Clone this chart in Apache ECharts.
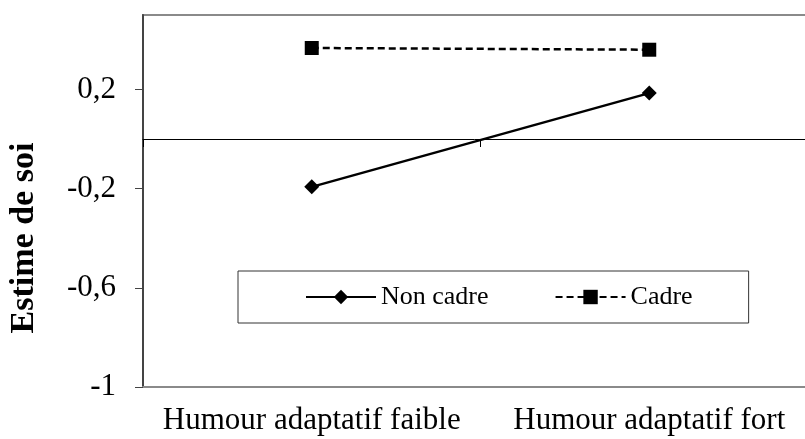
<!DOCTYPE html>
<html>
<head>
<meta charset="utf-8">
<script src="https://cdn.jsdelivr.net/npm/echarts@6/dist/echarts.min.js"></script>
<style>
  html, body { margin: 0; padding: 0; background: #fff; }
  #chart { width: 805px; height: 439px; }
</style>
</head>
<body>
<div id="chart"></div>
<script>
// donnees
const categories = ['Humour adaptatif faible', 'Humour adaptatif fort']
const nonCadre = [-0.193, 0.185]
const cadre = [0.367, 0.36]
const yTicks = [-1, -0.6, -0.2, 0.2]

const serif = "'Liberation Serif', 'Times New Roman', serif"
const fmt = (v) => String(Math.round(v * 10) / 10).replace('.', ',')

const myChart = echarts.init(document.getElementById('chart'))
const option = {
  animation: false,
  grid: {
    left: 143,
    width: 675,
    top: 15,
    bottom: 52,
    outerBoundsMode: 'none',
    show: true,
    borderColor: '#8a8a8a',
    borderWidth: 2
  },
  graphic: [{
    type: 'text',
    x: 24,
    y: 238,
    rotation: Math.PI / 2,
    style: {
      text: 'Estime de soi',
      font: 'bold 34px ' + serif,
      fill: '#000',
      align: 'center',
      verticalAlign: 'middle'
    }
  }],
  legend: {
    left: 238,
    top: 271,
    padding: [13, 56, 13, 67],
    borderColor: '#333',
    borderWidth: 1,
    itemWidth: 70,
    itemHeight: 18,
    itemGap: 66,
    textStyle: { fontFamily: serif, fontSize: 26, color: '#000' },
    data: ['Non cadre', 'Cadre']
  },
  xAxis: [{
    type: 'category',
    data: categories,
    position: 'bottom',
    axisLine: { onZero: false, lineStyle: { color: '#8a8a8a', width: 2 } },
    axisTick: { show: false },
    axisLabel: { interval: 0, fontFamily: serif, fontSize: 31, color: '#000', margin: 18 }
  }, {
    type: 'category',
    data: categories,
    position: 'top',
    axisLine: { onZero: true, lineStyle: { color: '#000', width: 1 } },
    axisTick: { show: true, interval: 0, inside: true, length: 8, lineStyle: { color: '#000' } },
    axisLabel: { show: false, interval: 0 }
  }],
  yAxis: {
    type: 'value',
    min: -1,
    max: 0.5,
    interval: 0.4,
    splitLine: { show: false },
    axisLine: { show: true, lineStyle: { color: '#444', width: 2 } },
    axisTick: { show: true, length: 8, customValues: yTicks, lineStyle: { color: '#444' } },
    axisLabel: {
      customValues: yTicks,
      formatter: fmt,
      fontFamily: serif,
      fontSize: 31,
      color: '#000',
      margin: 27
    }
  },
  series: [{
    name: 'Non cadre',
    type: 'line',
    data: nonCadre,
    symbol: 'diamond',
    symbolSize: 15,
    itemStyle: { color: '#000' },
    lineStyle: { color: '#000', width: 2.5, type: 'solid' }
  }, {
    name: 'Cadre',
    type: 'line',
    data: cadre,
    symbol: 'rect',
    symbolSize: 14,
    itemStyle: { color: '#000' },
    lineStyle: { color: '#000', width: 2.5, type: [7, 4] }
  }]
}
myChart.setOption(option)
</script>
</body>
</html>
